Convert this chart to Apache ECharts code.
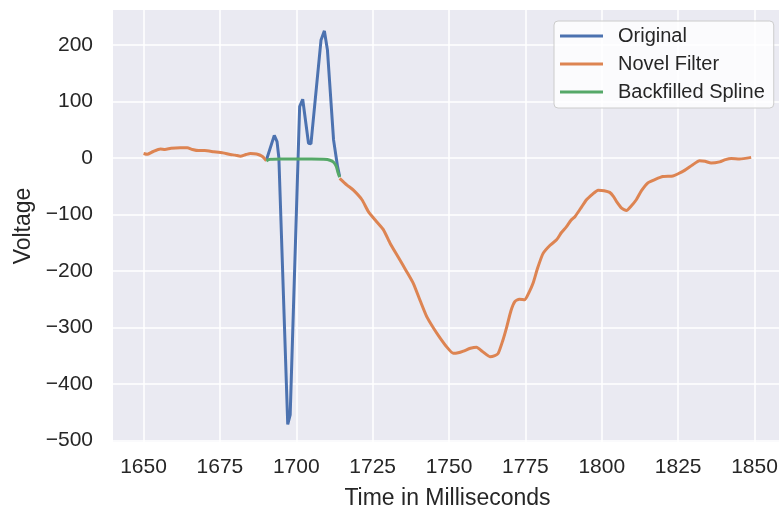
<!DOCTYPE html>
<html>
<head>
<meta charset="utf-8">
<script src="https://cdn.jsdelivr.net/npm/echarts@6/dist/echarts.min.js"></script>
<style>
  html, body { margin: 0; padding: 0; background: #ffffff; }
  #chart { width: 779px; height: 512px; }
</style>
</head>
<body>
<div id="chart"></div>
<script>
// Tick positions for both axes
const xTicks = [1650, 1675, 1700, 1725, 1750, 1775, 1800, 1825, 1850];
const yTicks = [-500, -400, -300, -200, -100, 0, 100, 200];

// Original recording around the artefact (ms, voltage)
const originalTime = [1690.2, 1692.8, 1693.7, 1694.3, 1697.2, 1698.0, 1701.1, 1702.1, 1704.0, 1704.8, 1708.1, 1709.2, 1710.2, 1712.2, 1713.5, 1714.2];
const originalVolt = [-4, 40, 29, 0, -472, -455, 91, 104, 26, 25, 209, 225, 191, 32, -15, -33];

// Filtered signal before the artefact
const filterTimeA = [1650, 1651.2, 1653, 1655.5, 1657, 1659, 1662, 1664.3, 1666, 1668, 1670, 1673, 1676, 1678.4, 1680, 1681.7, 1683.5, 1685, 1687, 1688.8, 1690.2];
const filterVoltA = [8, 6.5, 11, 16, 15, 17, 18, 18, 15, 13, 13, 11, 9, 6, 5, 3, 6, 8, 7, 3, -5];

// Filtered signal after the artefact
const filterTimeB = [1714.2, 1716.6, 1718.7, 1721.5, 1723.6, 1726.3, 1728.5, 1730.7, 1733.4, 1736, 1738.3, 1740.5, 1742.7, 1745, 1747.1, 1749.3, 1751.4, 1753, 1754.7, 1757, 1759, 1761, 1763.4, 1765, 1766.1, 1767.5, 1768.9, 1770.3, 1771.6, 1773, 1774.8, 1776.2, 1777.5, 1779, 1780.8, 1783, 1785.2, 1786.8, 1788.4, 1790, 1791.2, 1793, 1795, 1797, 1798.8, 1800.8, 1802.6, 1803.8, 1804.8, 1806.5, 1808.1, 1809.5, 1811.3, 1813, 1815.1, 1817.5, 1820, 1823.3, 1825, 1827.1, 1829.8, 1832, 1833.8, 1835.8, 1838.6, 1840.5, 1842.4, 1845.1, 1848.9];
const filterVoltB = [-36, -48, -57, -74, -95, -113, -127, -151, -176, -200, -222, -252, -281, -302, -319, -335, -346, -345, -342, -337, -335, -343, -352, -350, -346, -325, -299, -270, -254, -250, -251, -238, -222, -195, -169, -155, -145, -132, -122, -110, -104, -90, -74, -64, -57, -58, -61, -68, -77, -89, -93, -86, -74, -58, -44, -38, -33, -32, -28, -22, -12, -5, -6, -9, -7, -3, -1, -2, 1];

// Spline bridging the artefact
const splineTime = [1690.2, 1691.5, 1695, 1700, 1705, 1709, 1711, 1712.3, 1713.1, 1713.6, 1714.2];
const splineVolt = [-5, -2.5, -2, -2, -2, -2.5, -4, -8, -15, -25, -34];

const zip = (t, v) => t.map((x, i) => [x, v[i]]);
const filterData = zip(filterTimeA, filterVoltA).concat([[1702, null]], zip(filterTimeB, filterVoltB));

const FONT = "'Liberation Sans', Arial, sans-serif";
const TXT = '#262626';

const chart = echarts.init(document.getElementById('chart'), null, { renderer: 'canvas' });
chart.setOption({
  animation: false,
  backgroundColor: '#ffffff',
  grid: {
    left: 113, top: 10, width: 669, height: 432,
    outerBoundsMode: 'none', containLabel: false,
    show: true, backgroundColor: '#EAEAF2', borderWidth: 0
  },
  xAxis: {
    type: 'value', min: 1640, max: 1859,
    name: 'Time in Milliseconds', nameLocation: 'middle', nameGap: 45,
    nameTextStyle: { fontFamily: FONT, fontSize: 23, color: TXT },
    axisLine: { show: false },
    axisTick: { show: false, customValues: xTicks },
    axisLabel: { customValues: xTicks, fontFamily: FONT, fontSize: 21, color: TXT, margin: 15, formatter: v => String(v) },
    splitLine: { show: true, lineStyle: { color: '#ffffff', width: 1.5 } }
  },
  yAxis: {
    type: 'value', min: -503, max: 262,
    name: 'Voltage', nameLocation: 'middle', nameGap: 69, nameRotate: 90,
    nameTextStyle: { fontFamily: FONT, fontSize: 23, color: TXT },
    axisLine: { show: false },
    axisTick: { show: false, customValues: yTicks },
    axisLabel: {
      customValues: yTicks, fontFamily: FONT, fontSize: 21, color: TXT, margin: 20,
      formatter: v => String(v).replace('-', '\u2212')
    },
    splitLine: { show: true, lineStyle: { color: '#ffffff', width: 1.5 } }
  },
  legend: {
    orient: 'vertical', left: 554, top: 21,
    padding: [5, 9, 6, 6], itemGap: 8,
    icon: 'rect', itemWidth: 43, itemHeight: 3,
    backgroundColor: 'rgba(255,255,255,0.8)', borderColor: '#cccccc', borderWidth: 1, borderRadius: 4,
    textStyle: { fontFamily: FONT, fontSize: 20, color: TXT, padding: [0, 0, 0, 10] },
    data: ['Original', 'Novel Filter', 'Backfilled Spline']
  },
  series: [
    {
      name: 'Original', type: 'line', data: zip(originalTime, originalVolt),
      symbol: 'none', lineStyle: { color: '#4C72B0', width: 3 }, itemStyle: { color: '#4C72B0' }
    },
    {
      name: 'Novel Filter', type: 'line', data: filterData, connectNulls: false, smooth: 0.2,
      symbol: 'none', lineStyle: { color: '#DD8452', width: 3 }, itemStyle: { color: '#DD8452' }
    },
    {
      name: 'Backfilled Spline', type: 'line', data: zip(splineTime, splineVolt), smooth: 0.3,
      symbol: 'none', lineStyle: { color: '#55A868', width: 3 }, itemStyle: { color: '#55A868' }
    }
  ]
});
</script>
</body>
</html>
